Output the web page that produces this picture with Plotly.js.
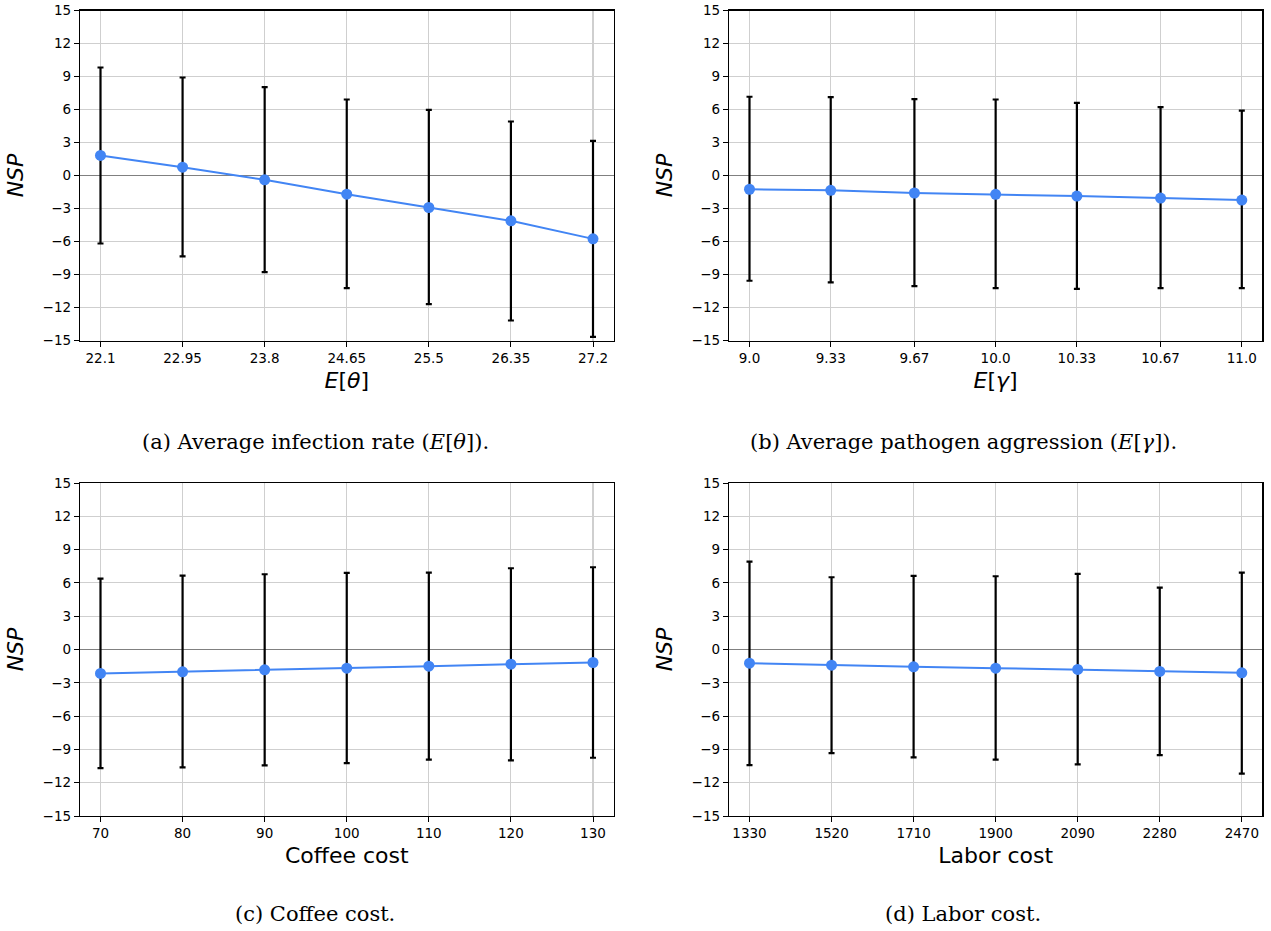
<!DOCTYPE html>
<html>
<head>
<meta charset="utf-8">
<script src="https://cdn.plot.ly/plotly-3.0.1.min.js"></script>
<style>
  html, body { margin: 0; padding: 0; background: #ffffff; }
  #chart { width: 1271px; height: 931px; }
</style>
</head>
<body>
<div id="chart"></div>
<script>
// ---------- Data ----------
// (a) Average infection rate
const thetaX = [22.1, 22.95, 23.8, 24.65, 25.5, 26.35, 27.2];
const thetaLabels = ["22.1", "22.95", "23.8", "24.65", "25.5", "26.35", "27.2"];
const thetaMean = [1.82, 0.76, -0.39, -1.70, -2.91, -4.12, -5.76];
const thetaUpper = [9.82, 8.91, 8.03, 6.91, 5.97, 4.91, 3.15];
const thetaLower = [-6.18, -7.36, -8.79, -10.24, -11.70, -13.18, -14.67];

// (b) Average pathogen aggression
const gammaX = [9.0, 9.33, 9.67, 10.0, 10.33, 10.67, 11.0];
const gammaLabels = ["9.0", "9.33", "9.67", "10.0", "10.33", "10.67", "11.0"];
const gammaMean = [-1.25, -1.35, -1.59, -1.71, -1.87, -2.05, -2.23];
const gammaUpper = [7.16, 7.13, 6.94, 6.91, 6.61, 6.21, 5.90];
const gammaLower = [-9.57, -9.72, -10.06, -10.24, -10.31, -10.24, -10.24];

// (c) Coffee cost
const coffeeX = [70, 80, 90, 100, 110, 120, 130];
const coffeeLabels = ["70", "80", "90", "100", "110", "120", "130"];
const coffeeMean = [-2.16, -2.01, -1.83, -1.68, -1.50, -1.32, -1.17];
const coffeeUpper = [6.39, 6.66, 6.78, 6.90, 6.93, 7.32, 7.41];
const coffeeLower = [-10.68, -10.62, -10.44, -10.23, -9.93, -9.99, -9.75];

// (d) Labor cost
const laborX = [1330, 1520, 1710, 1900, 2090, 2280, 2470];
const laborLabels = ["1330", "1520", "1710", "1900", "2090", "2280", "2470"];
const laborMean = [-1.23, -1.41, -1.56, -1.68, -1.80, -1.98, -2.10];
const laborUpper = [7.92, 6.51, 6.63, 6.60, 6.81, 5.58, 6.93];
const laborLower = [-10.41, -9.33, -9.72, -9.93, -10.35, -9.51, -11.19];

const yTicks = [-15, -12, -9, -6, -3, 0, 3, 6, 9, 12, 15];
const yTitle = "NSP";
const xTitles = ["<i>E</i>[<i>θ</i>]", "<i>E</i>[<i>γ</i>]", "Coffee cost", "Labor cost"];
const captions = [
  "(a) Average infection rate (<i>E</i>[<i>θ</i>]).",
  "(b) Average pathogen aggression (<i>E</i>[<i>γ</i>]).",
  "(c) Coffee cost.",
  "(d) Labor cost."
];

// ---------- Build ----------
const panels = [
  {x: thetaX, lab: thetaLabels, m: thetaMean, up: thetaUpper, lo: thetaLower},
  {x: gammaX, lab: gammaLabels, m: gammaMean, up: gammaUpper, lo: gammaLower},
  {x: coffeeX, lab: coffeeLabels, m: coffeeMean, up: coffeeUpper, lo: coffeeLower},
  {x: laborX, lab: laborLabels, m: laborMean, up: laborUpper, lo: laborLower}
];

const W = 1271, H = 931;
const boxes = [
  {l: 80, r: 613.5, t: 10.5, b: 340.5, cx: 315, cy: 442},
  {l: 729, r: 1262.3, t: 10.5, b: 340.5, cx: 963, cy: 442},
  {l: 80, r: 613.5, t: 483, b: 816, cx: 315, cy: 914},
  {l: 729, r: 1262.3, t: 483, b: 816, cx: 963, cy: 914}
];

const blue = "#4285f4";
const traces = [];
const layout = {
  width: W, height: H,
  margin: {l: 0, r: 0, t: 0, b: 0},
  paper_bgcolor: "#ffffff",
  plot_bgcolor: "#ffffff",
  showlegend: false,
  font: {family: "DejaVu Sans, sans-serif", color: "#000000"},
  annotations: []
};

panels.forEach((p, i) => {
  const n = i + 1;
  const xa = n === 1 ? "x" : "x" + n;
  const ya = n === 1 ? "y" : "y" + n;
  traces.push({
    type: "scatter", mode: "lines+markers",
    x: p.x, y: p.m, xaxis: xa, yaxis: ya,
    line: {color: blue, width: 2},
    marker: {color: blue, size: 11},
    error_y: {
      type: "data", symmetric: false,
      array: p.up.map((u, k) => u - p.m[k]),
      arrayminus: p.m.map((v, k) => v - p.lo[k]),
      color: "#000000", thickness: 2.2, width: 3
    },
    hoverinfo: "x+y"
  });
  const bx = boxes[i];
  const span = p.x[p.x.length - 1] - p.x[0];
  const pad = span * 20.5 / (bx.r - bx.l - 41);
  const xKey = n === 1 ? "xaxis" : "xaxis" + n;
  const yKey = n === 1 ? "yaxis" : "yaxis" + n;
  layout[xKey] = {
    domain: [bx.l / W, bx.r / W],
    anchor: ya,
    range: [p.x[0] - pad, p.x[p.x.length - 1] + pad],
    tickmode: "array", tickvals: p.x, ticktext: p.lab,
    ticks: "outside", ticklen: 5, tickwidth: 1, tickcolor: "#000",
    tickfont: {family: "DejaVu Sans", size: 13.5, color: "#000"},
    showgrid: true, gridcolor: "#cfcfcf", gridwidth: 1.1,
    zeroline: false,
    showline: true, linecolor: "#000", linewidth: 1.2, mirror: true,
    title: {text: xTitles[i],
            font: {family: "DejaVu Sans", size: 22, color: "#000"}, standoff: 7},
    automargin: false
  };
  layout[yKey] = {
    domain: [1 - bx.b / H, 1 - bx.t / H],
    anchor: xa,
    range: [-15, 15],
    tickmode: "array", tickvals: yTicks,
    ticks: "outside", ticklen: 5, tickwidth: 1, tickcolor: "#000",
    tickfont: {family: "DejaVu Sans", size: 13.5, color: "#000"},
    showgrid: true, gridcolor: "#cfcfcf", gridwidth: 1.1,
    zeroline: true, zerolinecolor: "#808080", zerolinewidth: 1.5,
    showline: true, linecolor: "#000", linewidth: 1.2, mirror: true,
    title: {text: "<i>" + yTitle + "</i>", font: {family: "DejaVu Sans", size: 22, color: "#000"}, standoff: 12},
    automargin: false
  };
  layout.annotations.push({
    xref: "paper", yref: "paper",
    x: bx.cx / W,
    y: 1 - bx.cy / H,
    xanchor: "center", yanchor: "middle",
    text: captions[i], showarrow: false,
    font: {family: "DejaVu Serif, serif", size: 21, color: "#000"}
  });
});

Plotly.newPlot("chart", traces, layout, {displayModeBar: false, staticPlot: true});
</script>
</body>
</html>
